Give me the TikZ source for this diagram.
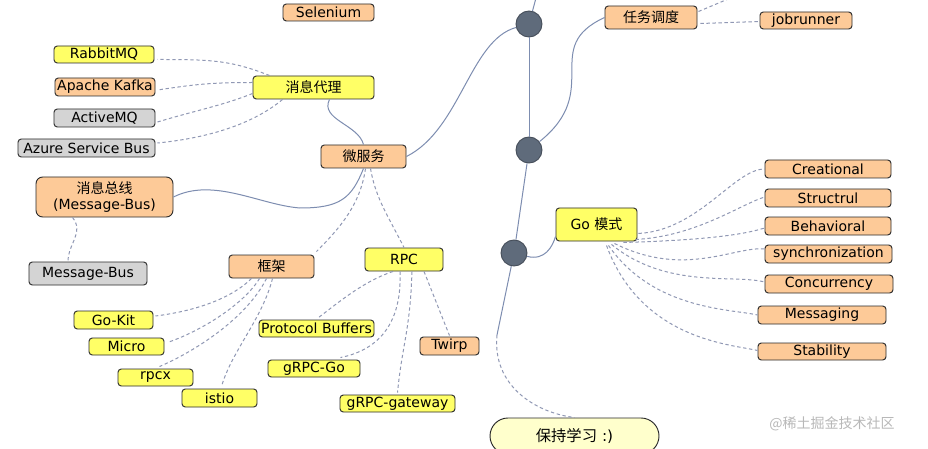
\documentclass[tikz,border=0pt]{standalone}
\usepackage{fontspec}
\setmainfont{DejaVu Sans}
\newfontfamily\cjk{Noto Sans CJK SC}
\usetikzlibrary{calc}
\definecolor{orf}{HTML}{FDCA98}
\definecolor{yef}{HTML}{FFFF66}
\definecolor{grf}{HTML}{D4D4D4}
\definecolor{pillf}{HTML}{FFFFCC}
\definecolor{bordc}{HTML}{2A2A2A}
\definecolor{circf}{HTML}{5F6B7B}
\definecolor{circd}{HTML}{464E5A}
\definecolor{slc}{HTML}{7D8DB0}
\definecolor{dlc}{HTML}{9098B4}
\definecolor{wmc}{HTML}{B8B8B8}
\tikzset{
  bx/.style={draw=bordc, line width=0.7pt, rounded corners=2.5pt, inner sep=0pt,
    font=\fontsize{10.5}{12}\selectfont, text=black},
  wh/.style 2 args={minimum width=#1*0.75pt, minimum height=#2*0.75pt},
  orbox/.style={bx, fill=orf},
  yebox/.style={bx, fill=yef},
  grbox/.style={bx, fill=grf},
  circ/.style={circle, fill=circf, draw=circd, line width=0.7pt, minimum size=19.5pt, inner sep=0pt},
  sline/.style={draw=slc, line width=0.75pt},
  dline/.style={draw=dlc, line width=0.75pt, dash pattern=on 2.5pt off 2pt},
}
\begin{document}
\begin{tikzpicture}[x=0.75pt, y=-0.75pt]
\useasboundingbox (0,0) rectangle (928,449);
\clip (0,0) rectangle (928,449);
\fill[white] (0,0) rectangle (928,449);

% nodes
\node[orbox, wh={91}{17}] (sel) at (328.5,12.5) {Selenium};
\node[yebox, wh={100}{17}] (rabbit) at (104,54.5) {RabbitMQ};
\node[orbox, wh={100}{18}] (kafka) at (105,87) {Apache Kafka};
\node[grbox, wh={101}{18}] (amq) at (104.5,118) {ActiveMQ};
\node[grbox, wh={137}{18}] (azure) at (86.5,148) {Azure Service Bus};
\node[yebox, wh={121}{23}] (broker) at (313.5,87.5) {{\cjk 消息代理}};
\node[orbox, wh={85}{23}] (ms) at (363.5,156.5) {{\cjk 微服务}};
\node[orbox, wh={137}{40}, rounded corners=5pt, align=center] (bus) at (104.5,197) {{\cjk 消息总线}\\(Message-Bus)};
\node[grbox, wh={118}{23}] (mb) at (88,273.5) {Message-Bus};
\node[orbox, wh={85}{23}] (fw) at (271.5,266.5) {{\cjk 框架}};
\node[yebox, wh={78}{23}] (rpc) at (404,259.5) {RPC};
\node[yebox, wh={79}{18}] (gokit) at (113.5,320) {Go-Kit};
\node[yebox, wh={75}{17}] (micro) at (126.5,346.5) {Micro};
\node[yebox, wh={75}{17}] (rpcx) at (155.5,377.5) {rpcx};
\node[yebox, wh={75}{18}] (istio) at (219.5,398) {istio};
\node[yebox, wh={115}{17}] (pb) at (316.5,328.5) {Protocol Buffers};
\node[yebox, wh={92}{17}] (grpcgo) at (314,368.5) {gRPC-Go};
\node[yebox, wh={115}{17}] (gw) at (397.5,403.5) {gRPC-gateway};
\node[orbox, wh={59}{18}] (twirp) at (449.5,346) {Twirp};
\node[orbox, wh={92}{23}] (task) at (651,17.5) {{\cjk 任务调度}};
\node[orbox, wh={92}{17}] (job) at (806,20.5) {jobrunner};
\node[yebox, wh={81}{33}] (go) at (596.5,224.5) {Go {\cjk 模式}};
\node[orbox, wh={126}{18}] (cre) at (828,169) {Creational};
\node[orbox, wh={126}{18}] (str) at (828,198) {Structrul};
\node[orbox, wh={126}{18}] (beh) at (828,226) {Behavioral};
\node[orbox, wh={127}{18}] (syn) at (828.5,254) {synchronization};
\node[orbox, wh={128}{18}] (conc) at (829,284) {Concurrency};
\node[orbox, wh={128}{18}] (msg) at (822,315) {Messaging};
\node[orbox, wh={128}{17}] (stab) at (822,351.5) {Stability};
\node[bx, fill=pillf, wh={169}{36}, rounded corners=13.5pt, font=\fontsize{11.5}{13}\selectfont] (pill) at (574.5,436) {{\cjk 保持学习}\ :)};

\node[circ] (c1) at (529,24) {};
\node[circ] (c2) at (529,150) {};
\node[circ] (c3) at (514,253) {};

\coordinate (top) at (536,-2);
\coordinate (sp) at (497,335);
\coordinate (offtop) at (740,-6);

% solid connectors
\draw[sline] (top) -- (c1);
\draw[sline] (c1) -- (c2);
\draw[sline] (c2) -- (c3);
\draw[sline] (c3) -- (sp);
\draw[dline] (sp) .. controls +(-5,50) and +(-40,-5) .. (pill.north);
\draw[sline] (ms.east) .. controls +(54,-27) and +(-59,16) .. (c1);
\draw[sline] (c2) .. controls +(75,-60) and +(-65,30) .. (task.west);
\draw[sline] (c3) .. controls +(31,8) and +(-3,10) .. ($(go.south west)+(0,-5)$);
\draw[sline] ($(broker.south)+(16,0)$) .. controls +(-10,20) and +(-5,-20) .. (ms.north);
\draw[sline] (ms.south) .. controls +(-12,30) and +(40,0) .. (300,208)
  .. controls +(-40,-3) and +(40,-20) .. (bus.east);

% dashed connectors
\draw[dline] ($(broker.north west)+(17,0)$) .. controls +(-40,-16) and +(50,0) .. ($(rabbit.east)+(3,5)$);
\draw[dline] ($(broker.west)+(0,-5)$) .. controls +(-40,0) and +(40,-6) .. ($(kafka.east)+(2,3)$);
\draw[dline] ($(broker.west)+(0,6)$) .. controls +(-30,12) and +(40,-12) .. ($(amq.east)+(2,4)$);
\draw[dline] ($(broker.south west)+(30,0)$) .. controls +(-30,25) and +(50,-5) .. ($(azure.east)+(2,-5)$);
\draw[dline] ($(bus.south)+(-32,0)$) .. controls +(12,15) and +(0,-18) .. ($(mb.north)+(-20,0)$);
\draw[dline] ($(ms.south)+(2,0)$) .. controls +(-5,35) and +(25,-25) .. ($(fw.north east)+(2,-3)$);
\draw[dline] ($(ms.south)+(7,0)$) .. controls +(5,30) and +(-15,-30) .. (rpc.north);
\draw[dline] ($(fw.south)+(-20,0)$) .. controls +(-20,20) and +(40,-5) .. ($(gokit.east)+(2,-4)$);
\draw[dline] ($(fw.south)+(-12,0)$) .. controls +(-15,25) and +(35,-12) .. ($(micro.east)+(3,-4)$);
\draw[dline] ($(fw.south)+(-5,0)$) .. controls +(-20,40) and +(35,-15) .. ($(rpcx.north)+(4,-2)$);
\draw[dline] ($(fw.south)+(1,0)$) .. controls +(-10,40) and +(10,-35) .. ($(istio.north)+(2,-2)$);
\draw[dline] ($(rpc.south)+(-11,0)$) .. controls +(-30,10) and +(20,-15) .. ($(pb.north)+(2,-2)$);
\draw[dline] ($(rpc.south)+(-4,0)$) .. controls +(2,50) and +(40,-8) .. ($(grpcgo.north east)+(-20,-2)$);
\draw[dline] ($(rpc.south)+(8,0)$) .. controls +(-2,60) and +(5,-50) .. ($(gw.north)+(0,-2)$);
\draw[dline] ($(rpc.south)+(20,0)$) .. controls +(8,20) and +(-8,-20) .. ($(twirp.north)+(0,-1)$);
\draw[dline] ($(task.east)+(3,6)$) -- ($(job.west)+(0,1)$);
\draw[dline] ($(task.east)+(1,-6)$) -- (offtop);

\draw[dline] ($(go.south east)+(1,-8)$) .. controls +(60,-3) and +(-30,0) .. (cre.west);
\draw[dline] ($(go.south east)+(-2,-2)$) .. controls +(60,-3) and +(-25,8) .. ($(str.west)+(0,-1)$);
\draw[dline] ($(go.south east)+(-14,1)$) .. controls +(70,-2) and +(-25,8) .. ($(beh.west)+(0,2)$);
\draw[dline] ($(go.south)+(18,2)$) .. controls +(70,35) and +(-30,-3) .. ($(syn.west)+(0,-5)$);
\draw[dline] ($(go.south)+(15,3)$) .. controls +(55,45) and +(-30,-8) .. ($(conc.west)+(0,-2)$);
\draw[dline] ($(go.south)+(12,4)$) .. controls +(45,65) and +(-25,-6) .. (msg.west);
\draw[dline] ($(go.south)+(10,4)$) .. controls +(35,95) and +(-25,-6) .. ($(stab.west)+(0,-1)$);

\node[font={\cjk\fontsize{10.5}{12}\selectfont}, text=wmc, inner sep=0pt] (wm) at (832,424) {@稀土掘金技术社区};
\end{tikzpicture}
\end{document}
